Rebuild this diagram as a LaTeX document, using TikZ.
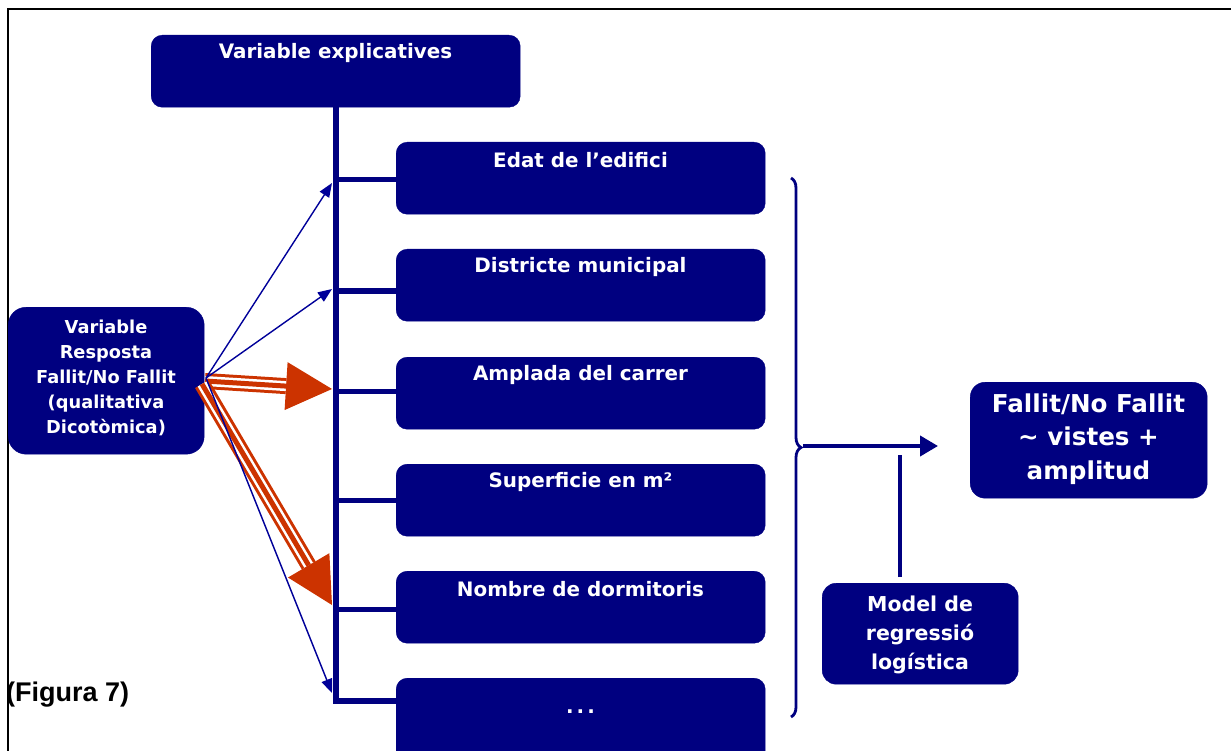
\documentclass[tikz,border=0pt]{standalone}
\usepackage{fontspec}
\setmainfont{DejaVu Sans}
\newfontfamily\arialf{Liberation Sans}
\usetikzlibrary{arrows.meta,calc,decorations.pathreplacing}
\definecolor{navy}{RGB}{0,0,128}
\definecolor{linkblue}{RGB}{0,0,153}
\definecolor{redarrow}{RGB}{204,51,0}
\begin{document}
\begin{tikzpicture}[x=1pt,y=-1pt,
  box/.style={fill=navy,draw=navy,rounded corners=11pt,inner sep=0pt,anchor=north west},
  wtxt/.style={text=white,font=\bfseries\fontsize{19.9}{24}\selectfont,inner sep=0pt,align=center},
  spine/.style={draw=navy,line width=6pt,line join=miter},
  conn/.style={draw=navy,line width=5pt},
  thinarr/.style={draw=linkblue,line width=1.4pt,-{Triangle[length=14pt,width=11pt]}},
  redo/.style={draw=redarrow,line width=16pt},
  redw/.style={draw=white,line width=10pt},
  redi/.style={draw=redarrow,line width=5pt},
]
\useasboundingbox (0,0) rectangle (1231,751);
% frame
\draw[black,line width=2.5pt] (8,751) -- (8,9) -- (1231,9);

% top box
\node[box,minimum width=369pt,minimum height=72pt] (ve) at (151,35) {};
\node[wtxt] (vet) at (335.5,53) {Variable explicatives};

% item boxes
\node[box,minimum width=369pt,minimum height=72pt] (b1) at (396,142) {};
\node[box,minimum width=369pt,minimum height=72pt] (b2) at (396,249) {};
\node[box,minimum width=369pt,minimum height=72pt] (b3) at (396,357) {};
\node[box,minimum width=369pt,minimum height=72pt] (b4) at (396,464) {};
\node[box,minimum width=369pt,minimum height=72pt] (b5) at (396,571) {};
\node[box,minimum width=369pt,minimum height=90pt] (b6) at (396,678) {};
\node[wtxt] (t1) at (580.5,160) {Edat de l’edifici};
\node[wtxt] (t2) at (580.5,267) {Districte municipal};
\node[wtxt] (t3) at (580.5,375) {Amplada del carrer};
\node[wtxt] (t4) at (580.5,482) {Superficie en m²};
\node[wtxt] (t5) at (580.5,589) {Nombre de dormitoris};
\node[wtxt] (t6) at (580.5,712) {.\kern3pt.\kern3pt.};

% spine and connectors
\coordinate (b6c) at (396,701);
\draw[spine] (ve.south) -- (ve.south |- b6c) -- (b6c);
\coordinate (c1) at (335,180);
\coordinate (c2) at (335,291);
\coordinate (c3) at (335,391);
\coordinate (c4) at (335,500);
\coordinate (c5) at (335,609);
\draw[conn] (c1) -- (c1 -| b1.west);
\draw[conn] (c2) -- (c2 -| b2.west);
\draw[conn] (c3) -- (c3 -| b3.west);
\draw[conn] (c4) -- (c4 -| b4.west);
\draw[conn] (c5) -- (c5 -| b5.west);

% response box
\node[box,rounded corners=18pt,minimum width=196pt,minimum height=147pt] (resp) at (8,307) {};
\node[wtxt,font=\bfseries\fontsize{17.8}{25}\selectfont] (respt) at (106,378)
  {Variable\\Resposta\\Fallit/No Fallit\\(qualitativa\\Dicotòmica)};

% red arrows
\coordinate (rs3) at (205,381);
\coordinate (r3) at (332,389);
\coordinate (rs5) at (202,384);
\coordinate (r5) at (332,605);
\coordinate (h3) at ($(r3)!46pt!(rs3)$);
\coordinate (h5) at ($(r5)!46pt!(rs5)$);
\draw[redo] (rs3) -- (h3);
\draw[redw] (rs3) -- (h3);
\draw[redi] (rs3) -- (h3);
\fill[redarrow] (r3) -- ($(h3)!24pt!90:(r3)$) -- ($(h3)!24pt!-90:(r3)$) -- cycle;
\draw[redo] (rs5) -- (h5);
\draw[redw] (rs5) -- (h5);
\draw[redi] (rs5) -- (h5);
\fill[redarrow] (r5) -- ($(h5)!24pt!90:(r5)$) -- ($(h5)!24pt!-90:(r5)$) -- cycle;

% thin blue arrows
\coordinate (rs) at (206,378);
\coordinate (p1) at (332,183);
\coordinate (p2) at (332,289);
\coordinate (p6) at (332,693);
\draw[thinarr] (rs) -- (p1);
\draw[thinarr] (rs) -- (p2);
\draw[thinarr] (rs) -- (p6);

% brace
\coordinate (brt) at (791,178);
\coordinate (brb) at (791,717);
\draw[navy,line width=2.8pt,decorate,decoration={brace,amplitude=10pt}] (brt) -- (brb);

% result box
\node[box,rounded corners=15pt,minimum width=237pt,minimum height=116pt] (fal) at (970,382) {};
\node[wtxt,font=\bfseries\fontsize{24.6}{33.5}\selectfont] (falt) at (1088.5,439)
  {Fallit/No Fallit\\\textasciitilde{} vistes +\\amplitud};
\coordinate (as) at (803,446);
\coordinate (ae) at (938,446);
\draw[navy,line width=4pt,-{Triangle[length=18pt,width=20pt]}] (as) -- (ae);

% model box
\node[box,rounded corners=14pt,minimum width=196pt,minimum height=101pt] (mod) at (822,583) {};
\node[wtxt,font=\bfseries\fontsize{20.5}{29}\selectfont] (modt) at (920,635)
  {Model de\\regressió\\logística};
\coordinate (ml1) at (900,577);
\coordinate (ml2) at (900,455);
\draw[navy,line width=4pt] (ml1) -- (ml2);

% caption
\node[font=\arialf\bfseries\fontsize{27}{31}\selectfont,anchor=west,inner sep=0pt] (fig) at (6,695) {(Figura 7)};
\end{tikzpicture}
\end{document}
